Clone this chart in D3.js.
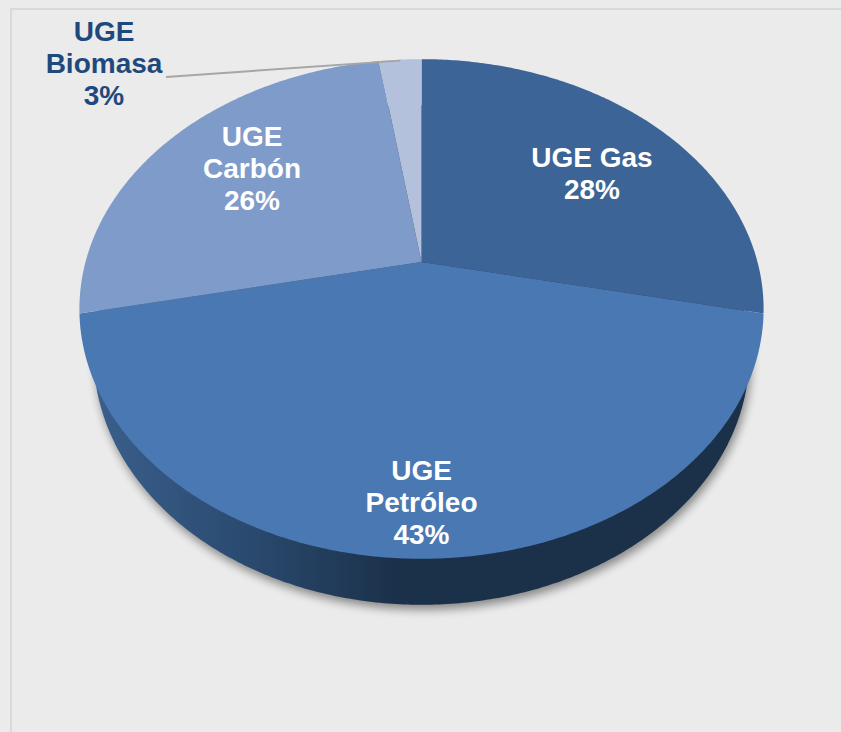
<!DOCTYPE html>
<html>
<head>
<meta charset="utf-8">
<script src="https://cdn.jsdelivr.net/npm/d3@7"></script>
<style>
  html, body { margin: 0; padding: 0; background: #ebebeb; overflow: hidden; }
</style>
</head>
<body>
<div id="body"></div>
<script>
// values read from the slice boundaries, the printed labels are rounded
var categories = ['UGE Gas', 'UGE Petróleo', 'UGE Carbón', 'UGE Biomasa'];
var shares = [28.3, 43.4, 25.9, 2.4];
var percentLabels = ['28%', '43%', '26%', '3%'];
var sliceColors = ['#3c6496', '#4a78b2', '#7f9bc9', '#b4c1dd'];

var width = 841;
var height = 732;
var tilt = -0.188; // perspective of the disc, the apex sits above the ellipse centre

var svg = d3.select('#body')
  .append('svg')
  .attr('width', width)
  .attr('height', height)
  .style('display', 'block');

var defs = svg.append('defs');

var sideGradient = defs.append('linearGradient')
  .attr('id', 'side')
  .attr('gradientUnits', 'userSpaceOnUse')
  .attr('x1', 95).attr('x2', 400).attr('y1', 0).attr('y2', 0);
sideGradient.append('stop').attr('offset', 0).attr('stop-color', '#3a5f8c');
sideGradient.append('stop').attr('offset', 0.5).attr('stop-color', '#2a4a6f');
sideGradient.append('stop').attr('offset', 1).attr('stop-color', '#1b3049');

defs.append('filter')
  .attr('id', 'blur')
  .attr('x', '-10%').attr('y', '-10%').attr('width', '120%').attr('height', '120%')
  .append('feGaussianBlur')
  .attr('stdDeviation', 5);

// panel border
svg.append('path')
  .attr('d', 'M11,732V9H841')
  .attr('fill', 'none')
  .attr('stroke', '#d9d9d9')
  .attr('stroke-width', 2);

// top face and bottom face scales
var xTop = d3.scaleLinear().domain([-1, 1]).range([421.5 - 336, 421.5 + 336]);
var yTop = d3.scaleLinear().domain([-1, 1]).range([262 - 241, 262 + 241]);
var xBottom = d3.scaleLinear().domain([-1, 1]).range([421.5 - 322, 421.5 + 322]);
var yBottom = d3.scaleLinear().domain([-1, 1]).range([308 - 241, 308 + 241]);

// angle is clockwise from the top, as in d3.pie
function project (angle, r, xs, ys) {
  var x = r * Math.sin(angle);
  var y = -r * Math.cos(angle);
  var w = 1 + tilt * y;
  return [xs(x / w), ys(y / w)];
}

var pie = d3.pie().sort(null).value(function(d) { return d; });
var slices = pie(shares);

function rimPoints (start, end, xs, ys) {
  var steps = Math.ceil((end - start) / 0.01);
  return d3.range(steps + 1).map(function(i) {
    return project(start + (end - start) * i / steps, 1, xs, ys);
  });
}

var line = d3.line();
var fullTurn = Math.PI * 2;

// shadow and the side wall
svg.append('path')
  .attr('d', line(rimPoints(0, fullTurn, xBottom, yBottom)) + 'Z')
  .attr('transform', 'translate(2,5)')
  .attr('fill', '#000')
  .attr('opacity', 0.42)
  .attr('filter', 'url(#blur)');

svg.append('path')
  .attr('d', line(rimPoints(0, fullTurn, xBottom, yBottom)) + 'Z')
  .attr('fill', 'url(#side)');

// top face
svg.selectAll('.slice')
  .data(slices)
  .enter()
  .append('path')
  .attr('class', 'slice')
  .attr('fill', function(d, i) { return sliceColors[i]; })
  .attr('d', function(d) {
    var pts = rimPoints(d.startAngle, d.endAngle, xTop, yTop);
    pts.unshift([xTop(0), yTop(0)]);
    return line(pts) + 'Z';
  });

// leader line for the small slice
var biomass = slices[3];
var leaderEnd = project((biomass.startAngle + biomass.endAngle) / 2, 1, xTop, yTop);
svg.append('line')
  .attr('x1', 166).attr('y1', 77)
  .attr('x2', leaderEnd[0]).attr('y2', leaderEnd[1] + 1)
  .attr('stroke', '#a6a6a6')
  .attr('stroke-width', 2);

// label blocks, hand placed like the original, same order as categories
var labelSpots = [
  { x: 592, y: 167, color: '#ffffff', lines: ['UGE Gas'] },
  { x: 421.5, y: 480, color: '#ffffff', lines: ['UGE', 'Petróleo'] },
  { x: 252, y: 146, color: '#ffffff', lines: ['UGE', 'Carbón'] },
  { x: 104, y: 41, color: '#1f497d', lines: ['UGE', 'Biomasa'] }
];

var labels = svg.selectAll('.slice-label')
  .data(labelSpots)
  .enter()
  .append('text')
  .attr('class', 'slice-label')
  .attr('text-anchor', 'middle')
  .attr('fill', function(d) { return d.color; })
  .style('font-family', '"Liberation Sans", Arial, sans-serif')
  .style('font-weight', 'bold')
  .style('font-size', '28px');

labels.each(function(d, i) {
  var rows = d.lines.concat(percentLabels[i]);
  d3.select(this).selectAll('tspan')
    .data(rows)
    .enter()
    .append('tspan')
    .attr('x', d.x)
    .attr('y', function(r, j) { return d.y + j * 32; })
    .text(function(r) { return r; });
});
</script>
</body>
</html>
